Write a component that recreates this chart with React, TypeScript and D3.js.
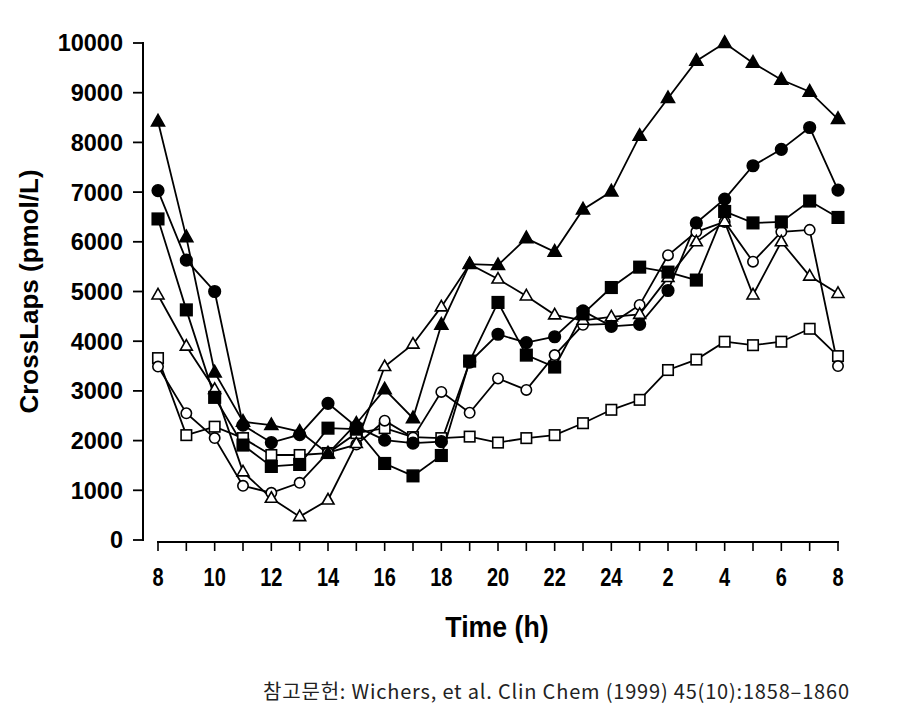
import React from "react";
import * as d3 from "d3";

// Hours of sampling (one point per hour, 08:00 to 08:00 next day)
const hours = [8, 9, 10, 11, 12, 13, 14, 15, 16, 17, 18, 19, 20, 21, 22, 23, 24, 1, 2, 3, 4, 5, 6, 7, 8];
const xTickLabels = ["8", "10", "12", "14", "16", "18", "20", "22", "24", "2", "4", "6", "8"];
const yTicks = [0, 1000, 2000, 3000, 4000, 5000, 6000, 7000, 8000, 9000, 10000];

const filledTriangle = [8420, 6090, 3370, 2380, 2310, 2180, 1740, 2340, 3030, 2450, 4330, 5550, 5530, 6070, 5800, 6650, 7010, 8130, 8890, 9640, 10000, 9600, 9260, 9020, 8470];
const filledCircle = [7030, 5630, 5000, 2310, 1960, 2120, 2750, 2280, 2010, 1950, 1980, 3580, 4140, 3970, 4090, 4610, 4300, 4340, 5020, 6380, 6860, 7530, 7860, 8300, 7040];
const filledSquare = [6460, 4630, 2870, 1910, 1480, 1520, 2250, 2230, 1540, 1290, 1700, 3600, 4780, 3720, 3480, 4550, 5080, 5490, 5390, 5230, 6610, 6380, 6400, 6820, 6490];
const openTriangle = [4930, 3900, 3030, 1370, 840, 470, 805, 1940, 3490, 3940, 4690, 5550, 5250, 4910, 4530, 4420, 4490, 4540, 5280, 6000, 6400, 4930, 6000, 5310, 4960];
const openCircle = [3490, 2550, 2050, 1090, 950, 1150, 1760, 1920, 2400, 2060, 2980, 2560, 3250, 3020, 3720, 4330, 4350, 4730, 5730, 6200, 6400, 5600, 6200, 6240, 3500];
const openSquare = [3660, 2110, 2280, 2050, 1710, 1710, 1750, 2150, 2250, 2070, 2050, 2080, 1960, 2050, 2110, 2350, 2620, 2820, 3420, 3630, 3990, 3920, 3990, 4250, 3700];

const series = [
  { key: "oSq", values: openSquare, shape: "square", filled: false },
  { key: "oCi", values: openCircle, shape: "circle", filled: false },
  { key: "oTr", values: openTriangle, shape: "triangle", filled: false },
  { key: "fSq", values: filledSquare, shape: "square", filled: true },
  { key: "fCi", values: filledCircle, shape: "circle", filled: true },
  { key: "fTr", values: filledTriangle, shape: "triangle", filled: true },
];

const W = 917;
const H = 716;

function Marker({ shape, filled, cx, cy }: { shape: string; filled: boolean; cx: number; cy: number }) {
  const fill = filled ? "#000" : "#fff";
  const sw = 1.6;
  if (shape === "circle") {
    const r = filled ? 5.8 : 5.2;
    return <circle cx={cx} cy={cy} r={r} fill={fill} stroke="#000" strokeWidth={sw} />;
  }
  if (shape === "square") {
    const s = filled ? 11.5 : 10.5;
    return <rect x={cx - s / 2} y={cy - s / 2} width={s} height={s} fill={fill} stroke="#000" strokeWidth={sw} />;
  }
  const w = filled ? 13 : 12;
  const h = filled ? 11.5 : 10.5;
  const pts = `${cx},${cy - h * 0.62} ${cx + w / 2},${cy + h * 0.38} ${cx - w / 2},${cy + h * 0.38}`;
  return <polygon points={pts} fill={fill} stroke="#000" strokeWidth={sw} strokeLinejoin="miter" />;
}

export default function App() {
  const x = d3.scaleLinear().domain([0, hours.length - 1]).range([158, 838]);
  const y = d3.scaleLinear().domain([0, 10000]).range([540, 43]);
  const line = d3
    .line<number>()
    .x((_, i) => x(i))
    .y((d) => y(d));

  const bold = "'Liberation Sans', Arial, sans-serif";

  return (
    <svg width={W} height={H} style={{ position: "absolute", left: 0, top: 0, background: "#fff" }}>
      <rect x={0} y={0} width={W} height={H} fill="#fff" />
      {/* Y axis */}
      <line x1={143} x2={143} y1={y(10000) - 1} y2={y(0) + 1} stroke="#000" strokeWidth={2} />
      {yTicks.map((t) => (
        <g key={t}>
          <line x1={133} x2={143} y1={y(t)} y2={y(t)} stroke="#000" strokeWidth={1.8} />
          <text x={123} y={y(t)} dy="0.36em" textAnchor="end" fontFamily={bold} fontWeight="bold" fontSize={23.5}>
            {t}
          </text>
        </g>
      ))}
      <text
        transform={`translate(38,${(y(0) + y(10000)) / 2}) rotate(-90)`}
        textAnchor="middle"
        fontFamily={bold}
        fontWeight="bold"
        fontSize={26}
      >
        CrossLaps (pmol/L)
      </text>

      {/* X axis */}
      <line x1={x(0) - 1} x2={x(hours.length - 1) + 1} y1={542} y2={542} stroke="#000" strokeWidth={2.2} />
      {hours.map((h, i) => (
        <line key={i} x1={x(i)} x2={x(i)} y1={542} y2={551} stroke="#000" strokeWidth={1.6} />
      ))}
      {xTickLabels.map((lab, j) => (
        <text
          key={j}
          transform={`translate(${x(j * 2)},586) scale(0.8,1)`}
          textAnchor="middle"
          fontFamily={bold}
          fontWeight="bold"
          fontSize={25}
        >
          {lab}
        </text>
      ))}
      <text
        transform="translate(497,637) scale(0.92,1)"
        textAnchor="middle"
        fontFamily={bold}
        fontWeight="bold"
        fontSize={29}
      >
        Time (h)
      </text>

      {/* Lines */}
      {series.map((s) => (
        <path key={s.key} d={line(s.values) || ""} fill="none" stroke="#000" strokeWidth={1.8} />
      ))}
      {/* Markers */}
      {series.map((s) => (
        <g key={s.key + "m"}>
          {s.values.map((v, i) => (
            <Marker key={i} shape={s.shape} filled={s.filled} cx={x(i)} cy={y(v)} />
          ))}
        </g>
      ))}

      <text
        x={263}
        y={699}
        fontFamily="'Noto Sans CJK KR', 'Noto Sans', sans-serif"
        fontSize={20}
        fill="#222"
        textLength={586}
        lengthAdjust="spacing"
      >
        참고문헌: Wichers, et al. Clin Chem (1999) 45(10):1858–1860
      </text>
    </svg>
  );
}
